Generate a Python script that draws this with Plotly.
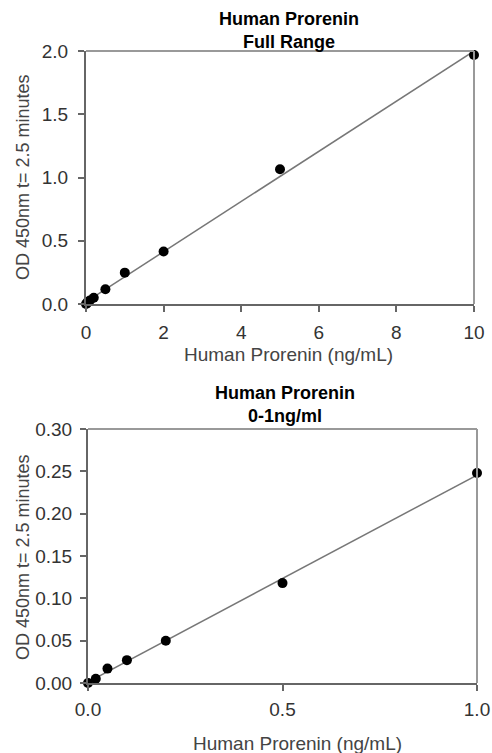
import numpy as np
import plotly.graph_objects as go

# Data
full_x = [0, 0.02, 0.05, 0.1, 0.2, 0.5, 1, 2, 5, 10]
full_y = [0.0, 0.005, 0.017, 0.027, 0.050, 0.117, 0.248, 0.415, 1.065, 1.968]
low_x = [0, 0.02, 0.05, 0.1, 0.2, 0.5, 1.0]
low_y = [0.0, 0.005, 0.017, 0.027, 0.050, 0.118, 0.248]

top_title = "<b>Human Prorenin<br>Full Range</b>"
bot_title = "<b>Human Prorenin<br>0-1ng/ml</b>"
x_title = "Human Prorenin (ng/mL)"
y_title = "OD 450nm t= 2.5 minutes"

W, H = 492, 753
FONT = "Liberation Sans, Arial, sans-serif"

def px_x(p):
    return p / W

def px_y(p):
    return 1 - p / H

fig = go.Figure()

def add_panel(xs, ys, xa, ya):
    slope, inter = np.polyfit(xs, ys, 1)
    lx = np.array([min(xs), max(xs)])
    fig.add_trace(go.Scatter(x=lx, y=slope * lx + inter, mode="lines",
                             line=dict(color="#777777", width=1.5),
                             xaxis=xa, yaxis=ya, showlegend=False, hoverinfo="skip",
                             cliponaxis=False))
    fig.add_trace(go.Scatter(x=xs, y=ys, mode="markers",
                             marker=dict(color="black", size=10),
                             xaxis=xa, yaxis=ya, showlegend=False, cliponaxis=False))

add_panel(full_x, full_y, "x", "y")
add_panel(low_x, low_y, "x2", "y2")

axis_common = dict(showgrid=False, zeroline=False, showline=True, linecolor="#666666",
                   linewidth=2, ticks="outside", ticklen=6, tickcolor="#666666", tickwidth=1.5,
                   tickfont=dict(family=FONT, size=19, color="#333333"), mirror=False,
                   automargin=False, ticklabeloverflow="allow")

top_dom_x = [px_x(86), px_x(474)]
top_dom_y = [px_y(304), px_y(51)]
bot_dom_x = [px_x(88), px_x(477)]
bot_dom_y = [px_y(683), px_y(429)]

fig.update_layout(
    width=W, height=H,
    margin=dict(l=0, r=0, t=0, b=0),
    paper_bgcolor="white", plot_bgcolor="white",
    xaxis=dict(domain=top_dom_x, anchor="y", range=[0, 10], tickvals=[0, 2, 4, 6, 8, 10],
               ticklabelstandoff=4, **axis_common),
    yaxis=dict(domain=top_dom_y, anchor="x", range=[0, 2.0], tickvals=[0, 0.5, 1.0, 1.5, 2.0],
               tickformat=".1f", ticklabelstandoff=6, **axis_common),
    xaxis2=dict(domain=bot_dom_x, anchor="y2", range=[0, 1.0], tickvals=[0, 0.5, 1.0],
                tickformat=".1f", ticklabelstandoff=2, **axis_common),
    yaxis2=dict(domain=bot_dom_y, anchor="x2", range=[0, 0.30],
                tickvals=[0, 0.05, 0.10, 0.15, 0.20, 0.25, 0.30],
                tickformat=".2f", ticklabelstandoff=4, **axis_common),
)

# Box top/right borders (lighter gray)
for dx, dy in [(top_dom_x, top_dom_y), (bot_dom_x, bot_dom_y)]:
    fig.add_shape(type="line", xref="paper", yref="paper", x0=dx[0], x1=dx[1], y0=dy[1], y1=dy[1],
                  line=dict(color="#999999", width=2))
    fig.add_shape(type="line", xref="paper", yref="paper", x0=dx[1], x1=dx[1], y0=dy[0], y1=dy[1],
                  line=dict(color="#999999", width=2))

ann = []
ann.append(dict(text=top_title, x=px_x(289), y=px_y(31), xref="paper", yref="paper",
                showarrow=False, font=dict(family=FONT, size=18, color="black"),
                xanchor="center", yanchor="middle"))
ann.append(dict(text=bot_title, x=px_x(285), y=px_y(404), xref="paper", yref="paper",
                showarrow=False, font=dict(family=FONT, size=18, color="black"),
                xanchor="center", yanchor="middle"))
ann.append(dict(text=x_title, x=px_x(288), y=px_y(354), xref="paper", yref="paper",
                showarrow=False, font=dict(family=FONT, size=19, color="#444444"),
                xanchor="center", yanchor="middle"))
ann.append(dict(text=x_title, x=px_x(297), y=px_y(743), xref="paper", yref="paper",
                showarrow=False, font=dict(family=FONT, size=19, color="#444444"),
                xanchor="center", yanchor="middle"))
ann.append(dict(text=y_title, x=px_x(23), y=px_y(177), xref="paper", yref="paper",
                showarrow=False, textangle=-90, font=dict(family=FONT, size=18, color="#444444"),
                xanchor="center", yanchor="middle"))
ann.append(dict(text=y_title, x=px_x(23), y=px_y(557), xref="paper", yref="paper",
                showarrow=False, textangle=-90, font=dict(family=FONT, size=18, color="#444444"),
                xanchor="center", yanchor="middle"))
fig.update_layout(annotations=ann)

fig.write_html("out.html", config={"displayModeBar": False},
               post_script="document.body.style.margin='0px';document.body.style.overflow='hidden';")
